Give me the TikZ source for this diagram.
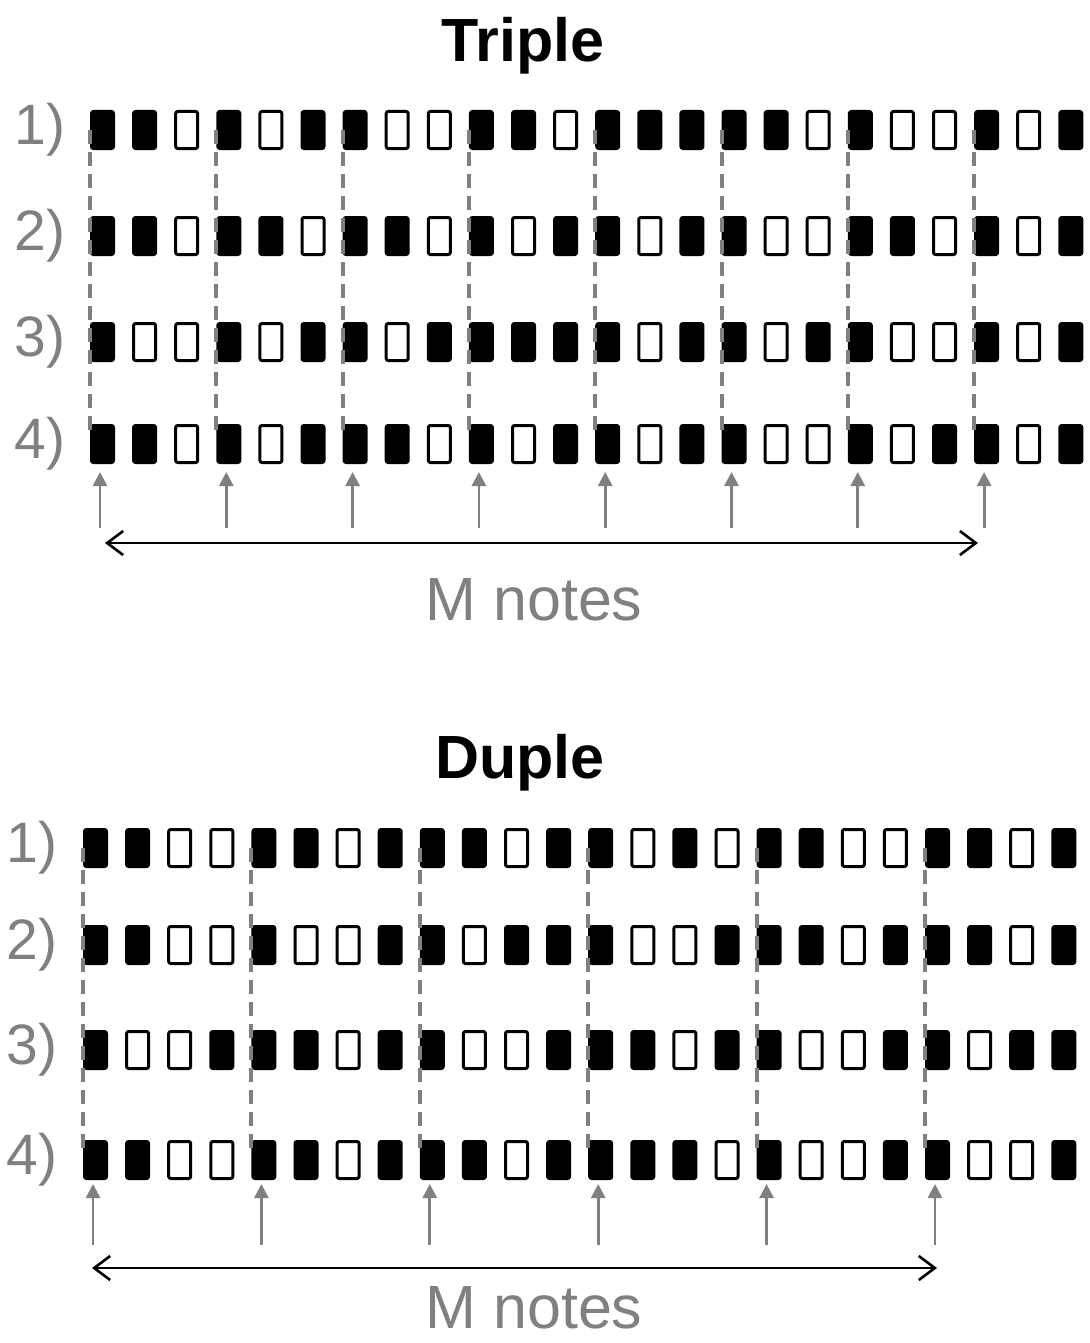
\documentclass[tikz,border=0pt]{standalone}
\usepackage{fontspec}
\setmainfont{Liberation Sans}
\usetikzlibrary{arrows.meta}
\definecolor{markgray}{RGB}{128,128,128}

\begin{document}
\begin{tikzpicture}[x=0.5pt, y=-0.5pt, line join=round,
  cell/.style={draw=black, line width=1.5pt, rounded corners=1pt, minimum width=11pt, minimum height=18.5pt, inner sep=0pt},
  cell1/.style={cell, fill=black},
  cell0/.style={cell, fill=white},
  title/.style={anchor=base, font=\bfseries\fontsize{30.5}{34}\selectfont},
  rowlabel/.style={text=markgray, font=\fontsize{28.5}{30}\selectfont},
  spanlabel/.style={anchor=base, text=markgray, font=\fontsize{30.5}{34}\selectfont},
  beatline/.style={draw=markgray, line width=2pt, dash pattern=on 7pt off 4pt},
  beatarrow/.style={draw=markgray, line width=1.4pt, -{Triangle[length=7pt,width=7pt]}},
  span/.style={line width=1.3pt, {Straight Barb[length=8pt,width=12pt]}-{Straight Barb[length=8pt,width=12pt]}}]
  \useasboundingbox (0,0) rectangle (1090,1343);

  % triple: groups of three
  \node[title] (triple) at (523,62) {Triple};
  \foreach \pat [count=\r] in {
      {1,1,0,1,0,1,1,0,0,1,1,0,1,1,1,1,1,0,1,0,0,1,0,1},
      {1,1,0,1,1,0,1,1,0,1,0,1,1,0,1,1,0,0,1,1,0,1,0,1},
      {1,0,0,1,0,1,1,0,1,1,1,1,1,0,1,1,0,1,1,0,0,1,0,1},
      {1,1,0,1,0,1,1,1,0,1,0,1,1,0,1,1,0,0,1,0,1,1,0,1}} {
    \pgfmathsetmacro\ry{{130,236,342,444}[\r-1]}
    \node[rowlabel] (tlab\r) at (40,\ry) {\r)};
    \foreach \v [count=\i from 0] in \pat
      \node[cell\v] (t\r-\i) at ({102.5+42.1*\i},\ry) {};
  }
  \foreach \i [count=\k] in {0,3,...,21} {
    \draw[beatline] (t1-\i.west) -- ([yshift=-5pt]t4-\i.north west);
    \coordinate (tb\k) at ({100+42.1*\i},528);
    \coordinate (tt\k) at ({100+42.1*\i},472);
    \draw[beatarrow] (tb\k) -- (tt\k);
  }
  \coordinate (tspanl) at (105,543);
  \coordinate (tspanr) at (978,543);
  \draw[span] (tspanl) -- (tspanr);
  \node[spanlabel] (tnotes) at (534,620) {M notes};

  % duple: groups of four
  \node[title] (duple) at (520,778) {Duple};
  \foreach \pat [count=\r] in {
      {1,1,0,0,1,1,0,1,1,1,0,1,1,0,1,0,1,1,0,0,1,1,0,1},
      {1,1,0,0,1,0,0,1,1,0,1,1,1,0,0,1,1,1,0,1,1,1,0,1},
      {1,0,0,1,1,1,0,1,1,0,0,1,1,1,0,1,1,0,0,1,1,0,1,1},
      {1,1,0,0,1,1,0,1,1,1,0,1,1,1,1,0,1,0,0,1,1,0,0,1}} {
    \pgfmathsetmacro\ry{{848,945,1050,1160}[\r-1]}
    \node[rowlabel] (dlab\r) at (32,\ry) {\r)};
    \foreach \v [count=\i from 0] in \pat
      \node[cell\v] (d\r-\i) at ({95.5+42.1*\i},\ry) {};
  }
  \foreach \i [count=\k] in {0,4,...,20} {
    \draw[beatline] (d1-\i.west) -- ([yshift=-5pt]d4-\i.north west);
    \coordinate (db\k) at ({93+42.1*\i},1245);
    \coordinate (dt\k) at ({93+42.1*\i},1184);
    \draw[beatarrow] (db\k) -- (dt\k);
  }
  \coordinate (dspanl) at (92,1268);
  \coordinate (dspanr) at (937,1268);
  \draw[span] (dspanl) -- (dspanr);
  \node[spanlabel] (dnotes) at (534,1328) {M notes};
\end{tikzpicture}
\end{document}
